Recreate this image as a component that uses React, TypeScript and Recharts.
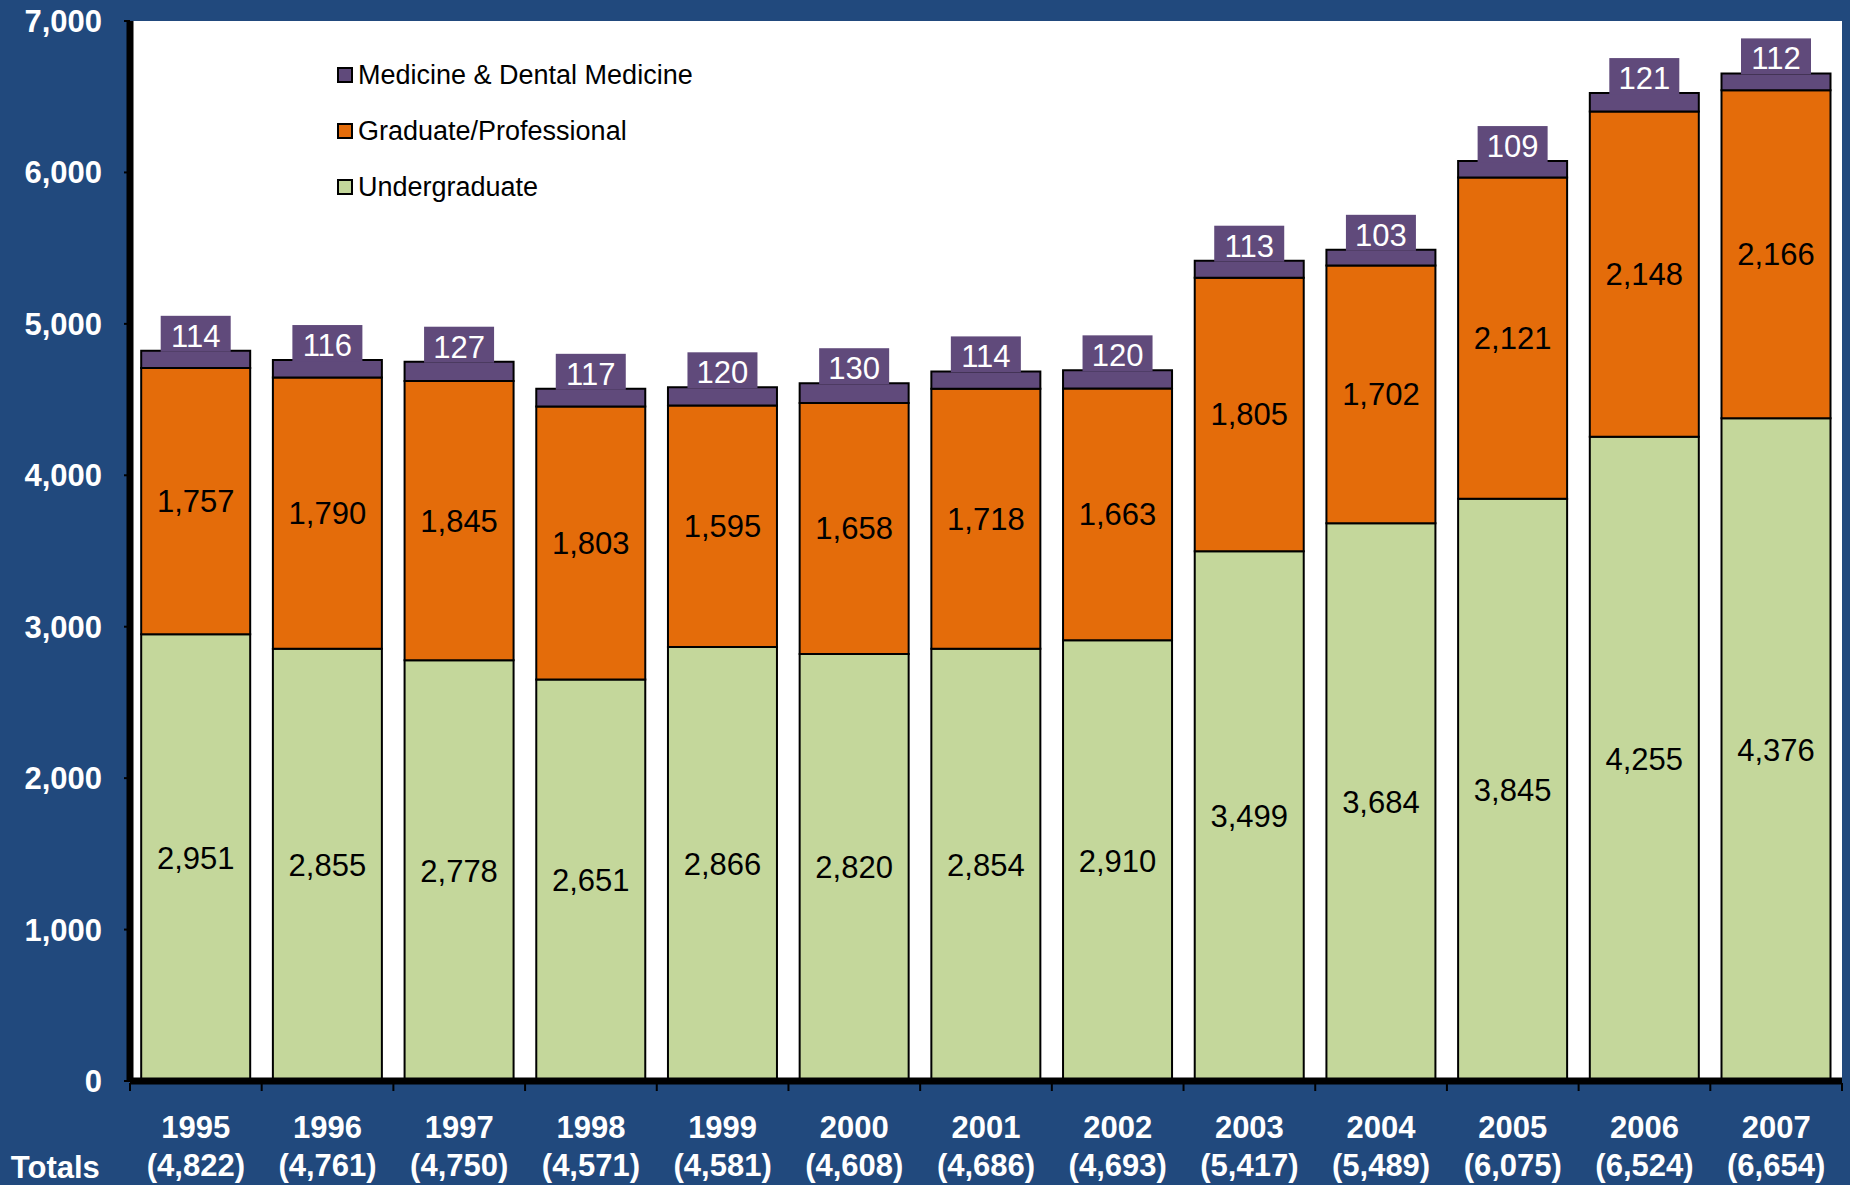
import React from 'react';
import { BarChart, Bar, XAxis, YAxis, CartesianGrid, LabelList, Legend } from 'recharts';

const years = ['1995', '1996', '1997', '1998', '1999', '2000', '2001', '2002', '2003', '2004', '2005', '2006', '2007'];
const undergraduate = [2951, 2855, 2778, 2651, 2866, 2820, 2854, 2910, 3499, 3684, 3845, 4255, 4376];
const graduate = [1757, 1790, 1845, 1803, 1595, 1658, 1718, 1663, 1805, 1702, 2121, 2148, 2166];
const medicine = [114, 116, 127, 117, 120, 130, 114, 120, 113, 103, 109, 121, 112];
const totals = [4822, 4761, 4750, 4571, 4581, 4608, 4686, 4693, 5417, 5489, 6075, 6524, 6654];
const yTicks = [0, 1000, 2000, 3000, 4000, 5000, 6000, 7000];

const seriesNames = ['Undergraduate', 'Graduate/Professional', 'Medicine & Dental Medicine'];
const seriesColors = ['#C4D79B', '#E46C0A', '#604A7B'];

const data = years.map((year, i) => ({
  year,
  total: totals[i],
  undergraduate: undergraduate[i],
  graduate: graduate[i],
  medicine: medicine[i],
}));

const FONT = '"Liberation Sans", Arial, Helvetica, sans-serif';
const BG = '#21497D';
const W = 1850;
const H = 1185;
const M_TOP = 21;
const M_RIGHT = 8;
const Y_W = 130;
const X_H = 104;
const STEP = (W - M_RIGHT - Y_W) / years.length;
const FS = 31;

const fmt = (v: any) => Number(v).toLocaleString('en-US');

const XTick = (props: any) => {
  const { x, y, payload, index } = props;
  const i = years.indexOf(payload.value);
  return (
    <g>
      <line x1={x - STEP / 2} x2={x - STEP / 2} y1={y} y2={y + 8} stroke="#000" strokeWidth={2} />
      {index === years.length - 1 && (
        <line x1={x + STEP / 2} x2={x + STEP / 2} y1={y} y2={y + 8} stroke="#000" strokeWidth={2} />
      )}
      <text x={x} y={y + 55} textAnchor="middle" fill="#fff" fontFamily={FONT} fontWeight="bold" fontSize={FS}>
        {payload.value}
      </text>
      <text x={x} y={y + 93} textAnchor="middle" fill="#fff" fontFamily={FONT} fontWeight="bold" fontSize={FS}>
        ({fmt(totals[i])})
      </text>
      {index === 0 && (
        <text x={x - 185} y={y + 95} textAnchor="start" fill="#fff" fontFamily={FONT} fontWeight="bold" fontSize={FS}>
          Totals
        </text>
      )}
    </g>
  );
};

const MedLabel = (props: any) => {
  const { x, y, width, value } = props;
  const cx = Number(x) + Number(width) / 2;
  const top = Number(y);
  return (
    <g>
      <rect x={cx - 35} y={top - 35} width={70} height={36} fill="#604A7B" />
      <text x={cx} y={top - 4} textAnchor="middle" fill="#fff" fontFamily={FONT} fontSize={FS}>
        {value}
      </text>
    </g>
  );
};

const LegendContent = () => {
  const order = [2, 1, 0];
  return (
    <div style={{ fontFamily: FONT }}>
      {order.map((k) => (
        <div key={k} style={{ display: 'flex', alignItems: 'center', height: 56 }}>
          <span
            style={{
              display: 'inline-block',
              width: 12,
              height: 12,
              background: seriesColors[k],
              border: '2px solid #000',
              marginRight: 5,
            }}
          />
          <span style={{ fontSize: 27, color: '#000', whiteSpace: 'nowrap' }}>{seriesNames[k]}</span>
        </div>
      ))}
    </div>
  );
};

export default function App() {
  return (
    <div style={{ position: 'absolute', left: 0, top: 0, width: W, height: H, background: BG }}>
      <BarChart
        width={W}
        height={H}
        data={data}
        margin={{ top: M_TOP, right: M_RIGHT, left: 0, bottom: 0 }}
        barCategoryGap="8.5%"
      >
        <CartesianGrid fill="#fff" stroke="none" horizontal={false} vertical={false} />
        <Legend
          content={<LegendContent />}
          layout="vertical"
          verticalAlign="middle"
          align="center"
          wrapperStyle={{ position: 'absolute', left: 337, top: 47, width: 'auto', height: 'auto' }}
        />
        <Bar dataKey="undergraduate" stackId="a" fill={seriesColors[0]} stroke="#000" strokeWidth={2} isAnimationActive={false}>
          <LabelList dataKey="undergraduate" position="center" formatter={fmt} fill="#000" fontFamily={FONT} fontSize={FS} />
        </Bar>
        <Bar dataKey="graduate" stackId="a" fill={seriesColors[1]} stroke="#000" strokeWidth={2} isAnimationActive={false}>
          <LabelList dataKey="graduate" position="center" formatter={fmt} fill="#000" fontFamily={FONT} fontSize={FS} />
        </Bar>
        <Bar dataKey="medicine" stackId="a" fill={seriesColors[2]} stroke="#000" strokeWidth={2} isAnimationActive={false}>
          <LabelList dataKey="medicine" content={<MedLabel />} />
        </Bar>
        <XAxis
          dataKey="year"
          height={X_H}
          interval={0}
          tickLine={false}
          tickSize={0}
          axisLine={{ stroke: '#000', strokeWidth: 7 }}
          tick={<XTick />}
        />
        <YAxis
          width={Y_W}
          domain={[0, 7000]}
          ticks={yTicks}
          interval={0}
          tickSize={6}
          tickMargin={22}
          tickLine={{ stroke: '#000', strokeWidth: 2 }}
          axisLine={{ stroke: '#000', strokeWidth: 7 }}
          tickFormatter={fmt}
          tick={{ fill: '#fff', fontFamily: FONT, fontWeight: 'bold', fontSize: FS }}
        />
        <XAxis xAxisId="top" dataKey="year" orientation="top" height={0} tick={false} tickLine={false} axisLine={{ stroke: '#000', strokeWidth: 7 }} />
        <YAxis yAxisId="right" orientation="right" width={0} type="number" domain={[0, 7000]} tick={false} tickLine={false} axisLine={{ stroke: '#000', strokeWidth: 7 }} />
      </BarChart>
    </div>
  );
}
